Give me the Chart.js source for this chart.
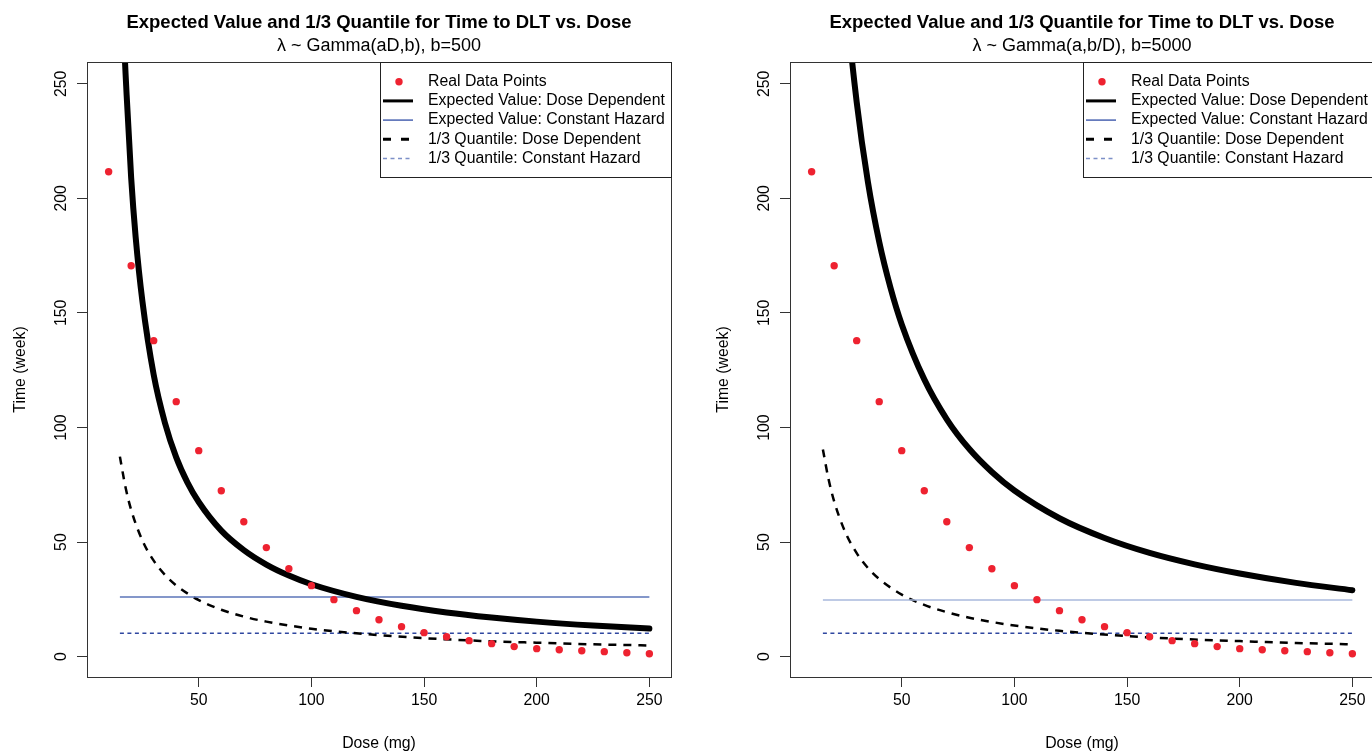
<!DOCTYPE html>
<html>
<head>
<meta charset="utf-8">
<script src="https://cdn.jsdelivr.net/npm/chart.js@4.4.1/dist/chart.umd.min.js"></script>
<style>
  html, body { margin: 0; padding: 0; background: #fff; overflow: hidden; }
  body { width: 1372px; height: 753px; position: relative; }
  canvas { position: absolute; top: 0; }
  #left { left: 0; }
  #right { left: 703px; }
</style>
</head>
<body>
<canvas id="left" width="703" height="753"></canvas>
<canvas id="right" width="703" height="753"></canvas>
<script>
// observed data: dose (mg) and time to DLT (week)
const doses = [10, 20, 30, 40, 50, 60, 70, 80, 90, 100, 110, 120, 130, 140, 150, 160, 170, 180, 190, 200, 210, 220, 230, 240, 250];
const realTime = [211.6, 170.6, 137.9, 111.3, 89.9, 72.4, 58.9, 47.6, 38.4, 31.0, 24.9, 20.1, 16.1, 13.1, 10.5, 8.7, 7.0, 5.7, 4.4, 3.5, 3.0, 2.6, 2.2, 1.7, 1.3];

// dose dependent curves
const leftExpDoses = [15, 17, 18, 20, 22, 25, 30, 35, 40, 45, 50, 60, 70, 80, 90, 100, 120, 140, 160, 180, 200, 225, 250];
const leftExpected = [329, 266, 245, 209, 183, 155, 123, 102, 87, 76, 67.5, 55, 46.5, 40.2, 35.4, 31.6, 26.1, 22.2, 19.3, 17.1, 15.3, 13.6, 12.3];
const rightExpDoses = [15, 20, 25, 30, 35, 40, 45, 50, 60, 70, 80, 90, 100, 120, 140, 160, 180, 200, 225, 250];
const rightExpected = [483, 362, 290, 242, 207, 181, 161, 145, 121, 103.6, 90.6, 80.6, 72.5, 60.4, 51.8, 45.3, 40.3, 36.3, 32.2, 29.0];

const quantDoses = [15, 17.5, 20, 25, 30, 35, 40, 50, 60, 70, 80, 100, 120, 150, 175, 200, 225, 250];
const leftQuantile = [87.3, 73.9, 64.1, 50.7, 41.9, 35.7, 31.1, 24.7, 20.5, 17.5, 15.3, 12.2, 10.2, 8.1, 6.9, 6.1, 5.4, 4.9];
const rightQuantile = [90.4, 77.5, 67.8, 54.2, 45.2, 38.7, 33.9, 27.1, 22.6, 19.4, 17.0, 13.6, 11.3, 9.0, 7.7, 6.8, 6.0, 5.4];

// constant hazard lines
const hazardDoses = [15, 250];
const leftHazardExp = [26.0, 26.0];
const leftHazardQuant = [10.2, 10.2];
const rightHazardExp = [24.7, 24.7];
const rightHazardQuant = [10.2, 10.2];

const mainTitle = 'Expected Value and 1/3 Quantile for Time to DLT vs. Dose';
const subTitles = ['λ ~ Gamma(aD,b), b=500', 'λ ~ Gamma(a,b/D), b=5000'];

const FONT = "'Liberation Sans', Arial, sans-serif";

const xy = (xs, ys) => xs.map((x, i) => ({ x: x, y: ys[i] }));

// R-like extras: box, titles, rotated y labels, legend box
const rStyle = {
    id: 'rStyle',
    afterDraw(chart, args, opts) {
        const ctx = chart.ctx;
        const a = chart.chartArea;
        const cx = (a.left + a.right) / 2;
        ctx.save();
        ctx.strokeStyle = '#333';
        ctx.lineWidth = 1;
        ctx.strokeRect(Math.round(a.left) + 0.5, Math.round(a.top) + 0.5, a.right - a.left, a.bottom - a.top);

        ctx.fillStyle = '#000';
        ctx.textAlign = 'center';
        ctx.textBaseline = 'alphabetic';
        ctx.font = 'bold 18.5px ' + FONT;
        ctx.fillText(opts.title, cx, 28);
        ctx.font = '18px ' + FONT;
        ctx.fillText(opts.subtitle, cx, 51);

        const ys = chart.scales.y;
        ctx.font = '15.8px ' + FONT;
        ys.ticks.forEach(t => {
            const py = ys.getPixelForValue(t.value);
            ctx.save();
            ctx.translate(66, py);
            ctx.rotate(-Math.PI / 2);
            ctx.fillText(String(t.value), 0, 0);
            ctx.restore();
        });

        // legend
        const lw = 291, lh = 115;
        const lx = a.right - lw, ly = a.top;
        ctx.fillStyle = '#fff';
        ctx.fillRect(lx, ly, lw, lh);
        ctx.strokeStyle = '#222';
        ctx.lineWidth = 1;
        ctx.strokeRect(Math.round(lx) + 0.5, Math.round(ly) + 0.5, lw, lh);
        ctx.textAlign = 'left';
        ctx.textBaseline = 'middle';
        chart.data.datasets.forEach((ds, i) => {
            const ry = ly + 19.7 + i * 19.2;
            const st = ds.legendStyle;
            if (ds.showLine === false) {
                ctx.beginPath();
                ctx.fillStyle = ds.pointBackgroundColor;
                ctx.arc(lx + 19, ry, 3.7, 0, Math.PI * 2);
                ctx.fill();
            } else {
                ctx.beginPath();
                ctx.setLineDash(st.dash || []);
                ctx.lineWidth = st.width;
                ctx.strokeStyle = st.color;
                ctx.moveTo(lx + 3, ry);
                ctx.lineTo(lx + 33, ry);
                ctx.stroke();
                ctx.setLineDash([]);
            }
            ctx.fillStyle = '#000';
            ctx.fillText(ds.label, lx + 48, ry);
        });
        ctx.restore();
    }
};

function drawPanel(id, p) {
    new Chart(document.getElementById(id), {
        type: 'line',
        data: {
            datasets: [{
                label: 'Real Data Points',
                data: xy(doses, realTime),
                showLine: false,
                pointRadius: 3.7,
                pointBackgroundColor: '#ee2230',
                pointBorderWidth: 0,
                legendStyle: {}
            }, {
                label: 'Expected Value: Dose Dependent',
                data: xy(p.expDoses, p.expected),
                borderColor: '#000',
                borderWidth: 6,
                borderCapStyle: 'round',
                pointRadius: 0,
                cubicInterpolationMode: 'monotone',
                clip: 0,
                legendStyle: { color: '#000', width: 3 }
            }, {
                label: 'Expected Value: Constant Hazard',
                data: xy(hazardDoses, p.hazardExp),
                borderColor: p.hazardColor,
                borderWidth: 1.5,
                pointRadius: 0,
                legendStyle: { color: '#4a63b0', width: 1.5 }
            }, {
                label: '1/3 Quantile: Dose Dependent',
                data: xy(quantDoses, p.quantile),
                borderColor: '#000',
                borderWidth: 2.5,
                borderDash: [8, 7],
                pointRadius: 0,
                cubicInterpolationMode: 'monotone',
                legendStyle: { color: '#000', width: 3, dash: [8, 10] }
            }, {
                label: '1/3 Quantile: Constant Hazard',
                data: xy(hazardDoses, p.hazardQuant),
                borderColor: '#2f47a0',
                borderWidth: 1.5,
                borderDash: [4, 3.5],
                pointRadius: 0,
                legendStyle: { color: '#7d90c8', width: 1.5, dash: [4, 3.5] }
            }]
        },
        options: {
            responsive: false,
            animation: false,
            devicePixelRatio: 1,
            layout: { padding: { top: 62, right: 32, left: 0, bottom: 0 } },
            plugins: {
                legend: { display: false },
                tooltip: { enabled: false },
                rStyle: { title: mainTitle, subtitle: p.subtitle }
            },
            scales: {
                x: {
                    type: 'linear',
                    min: 0.4,
                    max: 259.6,
                    afterFit: s => { s.height = 76; },
                    border: { color: '#333' },
                    grid: { drawOnChartArea: false, tickLength: 10, color: '#333' },
                    ticks: { stepSize: 50, includeBounds: false, color: '#000', font: { size: 15.8, family: FONT }, padding: 4, maxRotation: 0 },
                    title: { display: true, text: 'Dose (mg)', color: '#000', font: { size: 15.8, family: FONT }, padding: { top: 0, bottom: 0 } }
                },
                y: {
                    type: 'linear',
                    min: -8.86,
                    max: 259.5,
                    afterFit: s => { s.width = 87; },
                    border: { color: '#333' },
                    grid: { drawOnChartArea: false, tickLength: 10, color: '#333' },
                    ticks: { display: false, stepSize: 50, includeBounds: false },
                    title: { display: true, text: 'Time (week)', color: '#000', font: { size: 15.8, family: FONT }, padding: { top: 11.5, bottom: 0 } }
                }
            }
        },
        plugins: [rStyle]
    });
}

drawPanel('left', {
    subtitle: subTitles[0],
    expDoses: leftExpDoses, expected: leftExpected,
    quantile: leftQuantile,
    hazardExp: leftHazardExp, hazardQuant: leftHazardQuant,
    hazardColor: '#5b74b8'
});
drawPanel('right', {
    subtitle: subTitles[1],
    expDoses: rightExpDoses, expected: rightExpected,
    quantile: rightQuantile,
    hazardExp: rightHazardExp, hazardQuant: rightHazardQuant,
    hazardColor: '#a9b9dd'
});
</script>
</body>
</html>
